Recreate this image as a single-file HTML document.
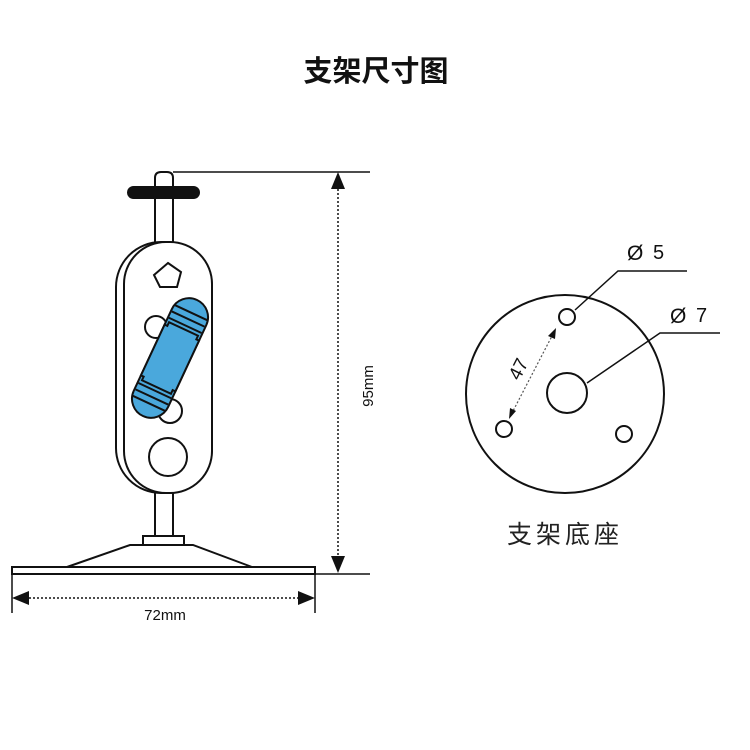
<!DOCTYPE html>
<html><head><meta charset="utf-8"><style>
html,body{margin:0;padding:0;background:#fff;}
svg{display:block;}
</style></head><body>
<svg width="750" height="750" viewBox="0 0 750 750" xmlns="http://www.w3.org/2000/svg">
<rect width="750" height="750" fill="#fff"/>
<text x="376" y="81" text-anchor="middle" font-family="Liberation Sans, Noto Sans CJK SC, sans-serif" font-weight="bold" font-size="29" fill="#111">支架尺寸图</text>

<g fill="none" stroke="#111" stroke-width="2">
  <path d="M155 242 V178 Q155 172 161 172 H167 Q173 172 173 178 V242"/>
  <rect x="116" y="242" width="96" height="251" rx="45" fill="#fff"/>
  <rect x="124" y="242" width="88" height="251" rx="42" fill="#fff"/>
  <polygon points="168,263 181,272 177,287 160,287 154,275" fill="#fff"/>
  <circle cx="156" cy="327" r="11" fill="#fff"/>
  <circle cx="170" cy="411" r="12" fill="#fff"/>
  <circle cx="168" cy="457" r="19" fill="#fff"/>
  <path d="M155 493 V536 M173 493 V536"/>
  <rect x="143" y="536" width="41" height="9" fill="#fff"/>
  <path d="M130 545 H193 L252 567 H67 Z" fill="#fff"/>
  <rect x="12" y="567" width="303" height="7" fill="#fff"/>
</g>
<rect x="127" y="186" width="73" height="13" rx="6.5" fill="#111"/>
<g transform="translate(170,358) rotate(25)">
  <rect x="-19" y="-64" width="38" height="128" rx="19" fill="#4aa8dc" stroke="#111" stroke-width="2"/>
  <path d="M-18 -50 H18 M-18 -43 H18 M-18 -36 H18 M-18 36 H18 M-18 43 H18 M-18 50 H18" stroke="#111" stroke-width="2"/>
  <path d="M-19 -28 H-16 V-32 H16 V-28 H19 V28 H16 V32 H-16 V28 H-19 Z" fill="#4aa8dc" stroke="#111" stroke-width="2"/>
</g>

<g stroke="#111" stroke-width="1.5" fill="none">
  <path d="M173 172 H370"/>
  <path d="M315 574 H370"/>
  <path d="M338 189 V556" stroke-dasharray="2,2"/>
  <path d="M12 574 V613 M315 574 V613"/>
  <path d="M29 598 H298" stroke-dasharray="2,2"/>
</g>
<polygon points="338,172 331,189 345,189" fill="#111"/>
<polygon points="338,573 331,556 345,556" fill="#111"/>
<polygon points="12,598 29,591 29,605" fill="#111"/>
<polygon points="315,598 298,591 298,605" fill="#111"/>
<text x="373" y="386" transform="rotate(-90 373 386)" text-anchor="middle" font-family="Liberation Sans, sans-serif" font-size="15" fill="#111">95mm</text>
<text x="165" y="620" text-anchor="middle" font-family="Liberation Sans, sans-serif" font-size="15" fill="#111">72mm</text>

<g fill="none" stroke="#111" stroke-width="2">
  <circle cx="565" cy="394" r="99"/>
  <circle cx="567" cy="393" r="20"/>
  <circle cx="567" cy="317" r="8"/>
  <circle cx="504" cy="429" r="8"/>
  <circle cx="624" cy="434" r="8"/>
  <path d="M575 310 L618 271 H687" stroke-width="1.5"/>
  <path d="M587 383 L660 333 H720" stroke-width="1.5"/>
</g>
<path d="M553 334 L512 413" stroke="#555" stroke-width="1.2" stroke-dasharray="2,2"/>
<polygon points="556,328 548,336 555,339" fill="#111"/>
<polygon points="509,419 510,408 516,411" fill="#111"/>
<text x="524" y="372" transform="rotate(-63 524 372)" text-anchor="middle" font-family="Liberation Sans, sans-serif" font-size="19" fill="#111">47</text>
<text x="627" y="260" font-family="Liberation Sans, sans-serif" font-size="21" fill="#111">Ø</text>
<text x="653" y="259" font-family="Liberation Sans, sans-serif" font-size="20" fill="#111">5</text>
<text x="670" y="323" font-family="Liberation Sans, sans-serif" font-size="21" fill="#111">Ø</text>
<text x="696" y="322" font-family="Liberation Sans, sans-serif" font-size="20" fill="#111">7</text>
<text x="565" y="543" text-anchor="middle" font-family="Liberation Sans, Noto Sans CJK SC, sans-serif" font-size="25" letter-spacing="4" fill="#222">支架底座</text>
</svg>
</body></html>
